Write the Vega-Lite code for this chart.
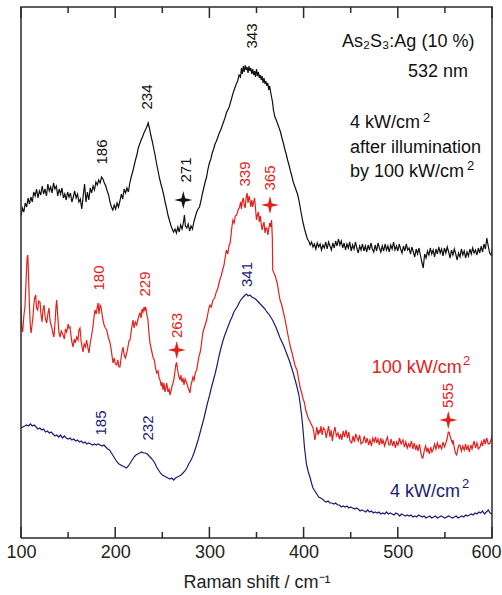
{
  "$schema": "https://vega.github.io/schema/vega-lite/v6.json",
  "width": 471,
  "height": 531,
  "autosize": {"type": "none"},
  "padding": {"left": 21, "top": 7, "right": 10, "bottom": 57},
  "background": "#ffffff",
  "view": {"stroke": null},
  "config": {
    "font": "Liberation Sans",
    "axis": {"grid": false}
  },
  "datasets": {
    "spec": [
      {"s":"k","x":100,"y":322},{"s":"k","x":101.5,"y":330},{"s":"k","x":103,"y":326},{"s":"k","x":104.5,"y":335},{"s":"k","x":106,"y":331},{"s":"k","x":107.5,"y":340},{"s":"k","x":109,"y":334},{"s":"k","x":110.5,"y":341},{"s":"k","x":112,"y":336},{"s":"k","x":113.5,"y":346},{"s":"k","x":115,"y":342},{"s":"k","x":116.5,"y":349},{"s":"k","x":118,"y":340},{"s":"k","x":119.5,"y":347},{"s":"k","x":121,"y":343},{"s":"k","x":122.5,"y":352},{"s":"k","x":124,"y":344},{"s":"k","x":125.5,"y":349},{"s":"k","x":127,"y":342},{"s":"k","x":128.5,"y":354},{"s":"k","x":130,"y":347},{"s":"k","x":131.5,"y":351},{"s":"k","x":133,"y":345},{"s":"k","x":134.5,"y":355},{"s":"k","x":136,"y":349},{"s":"k","x":137.5,"y":352},{"s":"k","x":139,"y":342},{"s":"k","x":140.5,"y":349},{"s":"k","x":142,"y":344},{"s":"k","x":143.5,"y":350},{"s":"k","x":145,"y":340},{"s":"k","x":146.5,"y":344},{"s":"k","x":148,"y":338},{"s":"k","x":149.5,"y":346},{"s":"k","x":151,"y":341},{"s":"k","x":152.5,"y":345},{"s":"k","x":154,"y":336},{"s":"k","x":155.5,"y":341},{"s":"k","x":157,"y":347},{"s":"k","x":158.5,"y":340},{"s":"k","x":160,"y":344},{"s":"k","x":161.5,"y":336},{"s":"k","x":163,"y":339},{"s":"k","x":164.5,"y":329},{"s":"k","x":166,"y":342},{"s":"k","x":167.5,"y":354},{"s":"k","x":169,"y":336},{"s":"k","x":170.5,"y":346},{"s":"k","x":172,"y":338},{"s":"k","x":173.5,"y":350},{"s":"k","x":175,"y":345},{"s":"k","x":176.5,"y":352},{"s":"k","x":178,"y":348},{"s":"k","x":179.5,"y":356},{"s":"k","x":181,"y":353},{"s":"k","x":182.5,"y":358},{"s":"k","x":184,"y":355},{"s":"k","x":185.5,"y":361},{"s":"k","x":187,"y":359},{"s":"k","x":188.5,"y":355},{"s":"k","x":190,"y":352},{"s":"k","x":191.5,"y":347},{"s":"k","x":193,"y":343},{"s":"k","x":194.5,"y":336},{"s":"k","x":196,"y":331},{"s":"k","x":197.5,"y":328},{"s":"k","x":199,"y":333},{"s":"k","x":200.5,"y":329},{"s":"k","x":202,"y":335},{"s":"k","x":203.5,"y":331},{"s":"k","x":205,"y":337},{"s":"k","x":206.5,"y":344},{"s":"k","x":208,"y":339},{"s":"k","x":209.5,"y":349},{"s":"k","x":211,"y":345},{"s":"k","x":212.5,"y":350},{"s":"k","x":214,"y":346},{"s":"k","x":215.5,"y":355},{"s":"k","x":217,"y":361},{"s":"k","x":218.5,"y":366},{"s":"k","x":220,"y":372},{"s":"k","x":221.5,"y":378},{"s":"k","x":223,"y":383},{"s":"k","x":224.5,"y":390},{"s":"k","x":226,"y":394},{"s":"k","x":227.5,"y":398},{"s":"k","x":229,"y":401},{"s":"k","x":230.5,"y":405},{"s":"k","x":232,"y":408},{"s":"k","x":233.5,"y":411},{"s":"k","x":235,"y":415},{"s":"k","x":236.5,"y":409},{"s":"k","x":238,"y":402},{"s":"k","x":239.5,"y":396},{"s":"k","x":241,"y":389},{"s":"k","x":242.5,"y":382},{"s":"k","x":244,"y":374},{"s":"k","x":245.5,"y":367},{"s":"k","x":247,"y":360},{"s":"k","x":248.5,"y":354},{"s":"k","x":250,"y":349},{"s":"k","x":251.5,"y":343},{"s":"k","x":253,"y":336},{"s":"k","x":254.5,"y":330},{"s":"k","x":256,"y":323},{"s":"k","x":257.5,"y":318},{"s":"k","x":259,"y":313},{"s":"k","x":260.5,"y":309},{"s":"k","x":262,"y":306},{"s":"k","x":263.5,"y":309},{"s":"k","x":265,"y":305},{"s":"k","x":266.5,"y":311},{"s":"k","x":268,"y":306},{"s":"k","x":269.5,"y":313},{"s":"k","x":271,"y":309},{"s":"k","x":272.5,"y":316},{"s":"k","x":273.5,"y":323},{"s":"k","x":274.5,"y":312},{"s":"k","x":276,"y":310},{"s":"k","x":277.5,"y":314},{"s":"k","x":279,"y":307},{"s":"k","x":280.5,"y":312},{"s":"k","x":282,"y":309},{"s":"k","x":283.5,"y":316},{"s":"k","x":285,"y":321},{"s":"k","x":286.5,"y":326},{"s":"k","x":288,"y":329},{"s":"k","x":289.5,"y":331},{"s":"k","x":291,"y":337},{"s":"k","x":292.5,"y":344},{"s":"k","x":294,"y":350},{"s":"k","x":295.5,"y":356},{"s":"k","x":297,"y":361},{"s":"k","x":298.5,"y":369},{"s":"k","x":300,"y":375},{"s":"k","x":301.5,"y":379},{"s":"k","x":303,"y":385},{"s":"k","x":304.5,"y":389},{"s":"k","x":306,"y":394},{"s":"k","x":307.5,"y":397},{"s":"k","x":309,"y":401},{"s":"k","x":310.5,"y":405},{"s":"k","x":312,"y":408},{"s":"k","x":313.5,"y":412},{"s":"k","x":315,"y":416},{"s":"k","x":316.5,"y":420},{"s":"k","x":318,"y":425},{"s":"k","x":319.5,"y":428},{"s":"k","x":321,"y":431},{"s":"k","x":322.5,"y":436},{"s":"k","x":324,"y":441},{"s":"k","x":325.5,"y":446},{"s":"k","x":327,"y":450},{"s":"k","x":328.5,"y":454},{"s":"k","x":330,"y":457},{"s":"k","x":331.5,"y":463},{"s":"k","x":333,"y":461},{"s":"k","x":334,"y":470},{"s":"k","x":335,"y":464},{"s":"k","x":336,"y":472},{"s":"k","x":337,"y":466},{"s":"k","x":338,"y":473},{"s":"k","x":339,"y":468},{"s":"k","x":340,"y":471},{"s":"k","x":341,"y":465},{"s":"k","x":342,"y":472},{"s":"k","x":343,"y":467},{"s":"k","x":344,"y":470},{"s":"k","x":345,"y":464},{"s":"k","x":346,"y":469},{"s":"k","x":347,"y":463},{"s":"k","x":348,"y":467},{"s":"k","x":349,"y":461},{"s":"k","x":350,"y":469},{"s":"k","x":351,"y":462},{"s":"k","x":352,"y":466},{"s":"k","x":353,"y":460},{"s":"k","x":354,"y":463},{"s":"k","x":355,"y":458},{"s":"k","x":356,"y":462},{"s":"k","x":357,"y":455},{"s":"k","x":358,"y":460},{"s":"k","x":359,"y":454},{"s":"k","x":360,"y":457},{"s":"k","x":361,"y":452},{"s":"k","x":362,"y":455},{"s":"k","x":363,"y":448},{"s":"k","x":364,"y":452},{"s":"k","x":365,"y":446},{"s":"k","x":366,"y":441},{"s":"k","x":367,"y":436},{"s":"k","x":368,"y":428},{"s":"k","x":369.5,"y":421},{"s":"k","x":371,"y":418},{"s":"k","x":372.5,"y":414},{"s":"k","x":374,"y":410},{"s":"k","x":375.5,"y":406},{"s":"k","x":377,"y":400},{"s":"k","x":378.5,"y":395},{"s":"k","x":380,"y":389},{"s":"k","x":381.5,"y":384},{"s":"k","x":383,"y":378},{"s":"k","x":384.5,"y":373},{"s":"k","x":386,"y":367},{"s":"k","x":387.5,"y":362},{"s":"k","x":389,"y":356},{"s":"k","x":390.5,"y":352},{"s":"k","x":392,"y":348},{"s":"k","x":393.5,"y":344},{"s":"k","x":395,"y":338},{"s":"k","x":396.5,"y":330},{"s":"k","x":398,"y":322},{"s":"k","x":399.5,"y":315},{"s":"k","x":401,"y":309},{"s":"k","x":402.5,"y":304},{"s":"k","x":404,"y":299},{"s":"k","x":405.5,"y":297},{"s":"k","x":407,"y":293},{"s":"k","x":408.5,"y":296},{"s":"k","x":410,"y":291},{"s":"k","x":411.5,"y":294},{"s":"k","x":413,"y":289},{"s":"k","x":414.5,"y":295},{"s":"k","x":416,"y":291},{"s":"k","x":417.5,"y":294},{"s":"k","x":419,"y":288},{"s":"k","x":420.5,"y":293},{"s":"k","x":422,"y":290},{"s":"k","x":423.5,"y":296},{"s":"k","x":425,"y":289},{"s":"k","x":426.5,"y":296},{"s":"k","x":428,"y":292},{"s":"k","x":429.5,"y":288},{"s":"k","x":431,"y":295},{"s":"k","x":432.5,"y":290},{"s":"k","x":434,"y":297},{"s":"k","x":435.5,"y":292},{"s":"k","x":437,"y":299},{"s":"k","x":438.5,"y":293},{"s":"k","x":440,"y":297},{"s":"k","x":441.5,"y":290},{"s":"k","x":443,"y":295},{"s":"k","x":444.5,"y":288},{"s":"k","x":446,"y":294},{"s":"k","x":447.5,"y":290},{"s":"k","x":449,"y":296},{"s":"k","x":450.5,"y":287},{"s":"k","x":452,"y":293},{"s":"k","x":453.5,"y":289},{"s":"k","x":455,"y":296},{"s":"k","x":456.5,"y":290},{"s":"k","x":458,"y":285},{"s":"k","x":459.5,"y":292},{"s":"k","x":461,"y":288},{"s":"k","x":462.5,"y":294},{"s":"k","x":464,"y":287},{"s":"k","x":465.5,"y":292},{"s":"k","x":467,"y":286},{"s":"k","x":468.5,"y":293},{"s":"k","x":470,"y":288},{"s":"k","x":471.5,"y":295},{"s":"k","x":473,"y":289},{"s":"k","x":474.5,"y":286},{"s":"k","x":476,"y":293},{"s":"k","x":477.5,"y":287},{"s":"k","x":479,"y":295},{"s":"k","x":480.5,"y":290},{"s":"k","x":482,"y":286},{"s":"k","x":483.5,"y":292},{"s":"k","x":485,"y":287},{"s":"k","x":486.5,"y":294},{"s":"k","x":488,"y":288},{"s":"k","x":489.5,"y":292},{"s":"k","x":491,"y":286},{"s":"k","x":492.5,"y":293},{"s":"k","x":494,"y":289},{"s":"k","x":495.5,"y":296},{"s":"k","x":497,"y":288},{"s":"k","x":498.5,"y":292},{"s":"k","x":500,"y":287},{"s":"k","x":501.5,"y":294},{"s":"k","x":503,"y":289},{"s":"k","x":504.5,"y":285},{"s":"k","x":506,"y":292},{"s":"k","x":507.5,"y":287},{"s":"k","x":509,"y":294},{"s":"k","x":510.5,"y":288},{"s":"k","x":512,"y":290},{"s":"k","x":513.5,"y":284},{"s":"k","x":515,"y":291},{"s":"k","x":516.5,"y":286},{"s":"k","x":518,"y":281},{"s":"k","x":519.5,"y":289},{"s":"k","x":521,"y":284},{"s":"k","x":522.5,"y":290},{"s":"k","x":524,"y":283},{"s":"k","x":525.5,"y":276},{"s":"k","x":527,"y":270},{"s":"k","x":528.5,"y":284},{"s":"k","x":530,"y":280},{"s":"k","x":531.5,"y":287},{"s":"k","x":533,"y":283},{"s":"k","x":534.5,"y":290},{"s":"k","x":536,"y":284},{"s":"k","x":537.5,"y":288},{"s":"k","x":539,"y":281},{"s":"k","x":540.5,"y":289},{"s":"k","x":542,"y":284},{"s":"k","x":543.5,"y":291},{"s":"k","x":545,"y":285},{"s":"k","x":546.5,"y":289},{"s":"k","x":548,"y":282},{"s":"k","x":549.5,"y":290},{"s":"k","x":551,"y":285},{"s":"k","x":552.5,"y":291},{"s":"k","x":554,"y":286},{"s":"k","x":555.5,"y":280},{"s":"k","x":557,"y":288},{"s":"k","x":558.5,"y":283},{"s":"k","x":560,"y":289},{"s":"k","x":561.5,"y":284},{"s":"k","x":563,"y":278},{"s":"k","x":564.5,"y":285},{"s":"k","x":566,"y":281},{"s":"k","x":567.5,"y":289},{"s":"k","x":569,"y":283},{"s":"k","x":570.5,"y":287},{"s":"k","x":572,"y":280},{"s":"k","x":573.5,"y":286},{"s":"k","x":575,"y":282},{"s":"k","x":576.5,"y":289},{"s":"k","x":578,"y":284},{"s":"k","x":579.5,"y":290},{"s":"k","x":581,"y":285},{"s":"k","x":582.5,"y":288},{"s":"k","x":584,"y":283},{"s":"k","x":585.5,"y":290},{"s":"k","x":587,"y":285},{"s":"k","x":588.5,"y":292},{"s":"k","x":590,"y":286},{"s":"k","x":591.5,"y":294},{"s":"k","x":593,"y":289},{"s":"k","x":594.5,"y":300},{"s":"k","x":596,"y":292},{"s":"k","x":597.5,"y":285},{"s":"k","x":599,"y":283},{"s":"k","x":600,"y":288},

      {"s":"r","x":100,"y":230},{"s":"r","x":100.8,"y":210},{"s":"r","x":101.8,"y":206},{"s":"r","x":103,"y":222},{"s":"r","x":104.2,"y":231},{"s":"r","x":105.5,"y":260},{"s":"r","x":106.5,"y":280},{"s":"r","x":107.2,"y":283},{"s":"r","x":108,"y":262},{"s":"r","x":109,"y":230},{"s":"r","x":110,"y":210},{"s":"r","x":110.8,"y":205},{"s":"r","x":111.8,"y":214},{"s":"r","x":112.7,"y":221},{"s":"r","x":113.5,"y":232},{"s":"r","x":114.5,"y":240},{"s":"r","x":115.6,"y":243},{"s":"r","x":116.5,"y":230},{"s":"r","x":117.7,"y":228},{"s":"r","x":118.8,"y":237},{"s":"r","x":120.2,"y":236},{"s":"r","x":121.2,"y":224},{"s":"r","x":122.3,"y":216},{"s":"r","x":123.3,"y":228},{"s":"r","x":124.4,"y":233},{"s":"r","x":125.5,"y":222},{"s":"r","x":126.3,"y":218},{"s":"r","x":127.3,"y":215},{"s":"r","x":128.5,"y":224},{"s":"r","x":129.7,"y":230},{"s":"r","x":130.8,"y":218},{"s":"r","x":131.6,"y":214},{"s":"r","x":132.6,"y":211},{"s":"r","x":133.8,"y":205},{"s":"r","x":135,"y":201},{"s":"r","x":136.3,"y":218},{"s":"r","x":137.2,"y":232},{"s":"r","x":137.9,"y":238},{"s":"r","x":139,"y":222},{"s":"r","x":140.2,"y":206},{"s":"r","x":141.4,"y":201},{"s":"r","x":142.8,"y":207},{"s":"r","x":144.6,"y":203},{"s":"r","x":146,"y":199},{"s":"r","x":147.2,"y":209},{"s":"r","x":148.5,"y":206},{"s":"r","x":150,"y":214},{"s":"r","x":151,"y":210},{"s":"r","x":152,"y":211},{"s":"r","x":153,"y":203},{"s":"r","x":154,"y":196},{"s":"r","x":155.2,"y":191},{"s":"r","x":156.5,"y":199},{"s":"r","x":157.8,"y":195},{"s":"r","x":159.1,"y":201},{"s":"r","x":160.5,"y":198},{"s":"r","x":161.5,"y":208},{"s":"r","x":162.6,"y":210},{"s":"r","x":163.8,"y":197},{"s":"r","x":165,"y":190},{"s":"r","x":165.8,"y":186},{"s":"r","x":167,"y":194},{"s":"r","x":168.4,"y":191},{"s":"r","x":169.7,"y":198},{"s":"r","x":171,"y":190},{"s":"r","x":172.2,"y":185},{"s":"r","x":173.5,"y":195},{"s":"r","x":175,"y":203},{"s":"r","x":176.5,"y":212},{"s":"r","x":177.6,"y":222},{"s":"r","x":178.6,"y":228},{"s":"r","x":179.8,"y":224},{"s":"r","x":180.8,"y":230},{"s":"r","x":181.7,"y":235},{"s":"r","x":182.8,"y":224},{"s":"r","x":183.9,"y":233},{"s":"r","x":184.9,"y":231},{"s":"r","x":186,"y":224},{"s":"r","x":187,"y":218},{"s":"r","x":188.2,"y":213},{"s":"r","x":189.5,"y":210},{"s":"r","x":191,"y":208},{"s":"r","x":192.6,"y":201},{"s":"r","x":194.5,"y":195},{"s":"r","x":195.8,"y":188},{"s":"r","x":196.8,"y":181},{"s":"r","x":197.7,"y":175},{"s":"r","x":199,"y":180},{"s":"r","x":200.2,"y":174},{"s":"r","x":201.6,"y":173},{"s":"r","x":202.8,"y":178},{"s":"r","x":204,"y":171},{"s":"r","x":205.1,"y":171},{"s":"r","x":206.2,"y":180},{"s":"r","x":207.2,"y":186},{"s":"r","x":208.3,"y":191},{"s":"r","x":209.5,"y":183},{"s":"r","x":210.8,"y":180},{"s":"r","x":212.2,"y":185},{"s":"r","x":213.5,"y":191},{"s":"r","x":214.6,"y":197},{"s":"r","x":215.7,"y":198},{"s":"r","x":216.8,"y":205},{"s":"r","x":217.8,"y":212},{"s":"r","x":218.9,"y":218},{"s":"r","x":220,"y":210},{"s":"r","x":221.3,"y":216},{"s":"r","x":222.8,"y":213},{"s":"r","x":224.3,"y":219},{"s":"r","x":225.3,"y":223},{"s":"r","x":226.3,"y":225},{"s":"r","x":227.5,"y":220},{"s":"r","x":228.5,"y":229},{"s":"r","x":229.5,"y":226},{"s":"r","x":230.6,"y":231},{"s":"r","x":231.5,"y":228},{"s":"r","x":232.4,"y":231},{"s":"r","x":233.5,"y":224},{"s":"r","x":234.8,"y":218},{"s":"r","x":235.8,"y":205},{"s":"r","x":236.9,"y":195},{"s":"r","x":238.5,"y":188},{"s":"r","x":240.1,"y":181},{"s":"r","x":241.5,"y":178},{"s":"r","x":242.8,"y":170},{"s":"r","x":244.1,"y":165},{"s":"r","x":245.5,"y":167},{"s":"r","x":246.6,"y":160},{"s":"r","x":247.6,"y":158},{"s":"r","x":248.8,"y":152},{"s":"r","x":249.7,"y":156},{"s":"r","x":250.7,"y":148},{"s":"r","x":251.8,"y":155},{"s":"r","x":252.8,"y":146},{"s":"r","x":253.8,"y":150},{"s":"r","x":254.7,"y":155},{"s":"r","x":256,"y":146},{"s":"r","x":257.2,"y":149},{"s":"r","x":258.2,"y":143},{"s":"r","x":259.5,"y":148},{"s":"r","x":260.4,"y":152},{"s":"r","x":261.4,"y":155},{"s":"r","x":262.6,"y":160},{"s":"r","x":263.6,"y":168},{"s":"r","x":264.5,"y":174},{"s":"r","x":265.3,"y":175},{"s":"r","x":266.3,"y":168},{"s":"r","x":267.5,"y":162},{"s":"r","x":268.8,"y":158},{"s":"r","x":269.8,"y":163},{"s":"r","x":270.8,"y":156},{"s":"r","x":272,"y":160},{"s":"r","x":273,"y":153},{"s":"r","x":274.2,"y":159},{"s":"r","x":275.9,"y":155},{"s":"r","x":277.2,"y":151},{"s":"r","x":278.3,"y":148},{"s":"r","x":279.4,"y":145},{"s":"r","x":280.5,"y":153},{"s":"r","x":281.6,"y":157},{"s":"r","x":282.6,"y":161},{"s":"r","x":283.7,"y":158},{"s":"r","x":285,"y":165},{"s":"r","x":286.5,"y":168},{"s":"r","x":287.7,"y":175},{"s":"r","x":289,"y":182},{"s":"r","x":290,"y":185},{"s":"r","x":291.3,"y":192},{"s":"r","x":292.3,"y":200},{"s":"r","x":293.2,"y":206},{"s":"r","x":294.5,"y":210},{"s":"r","x":295.8,"y":214},{"s":"r","x":297.1,"y":218},{"s":"r","x":298.5,"y":225},{"s":"r","x":299.5,"y":230},{"s":"r","x":300.6,"y":233},{"s":"r","x":302,"y":231},{"s":"r","x":303.8,"y":238},{"s":"r","x":305.5,"y":240},{"s":"r","x":307,"y":245},{"s":"r","x":309,"y":250},{"s":"r","x":311,"y":258},{"s":"r","x":312.5,"y":262},{"s":"r","x":314,"y":268},{"s":"r","x":315.5,"y":273},{"s":"r","x":317,"y":282},{"s":"r","x":318,"y":288},{"s":"r","x":319.5,"y":284},{"s":"r","x":321,"y":293},{"s":"r","x":322,"y":295},{"s":"r","x":323.2,"y":305},{"s":"r","x":324,"y":312},{"s":"r","x":325,"y":318},{"s":"r","x":326.3,"y":315},{"s":"r","x":327.5,"y":322},{"s":"r","x":329,"y":323},{"s":"r","x":330.5,"y":328},{"s":"r","x":332,"y":331},{"s":"r","x":333.2,"y":336},{"s":"r","x":334,"y":329},{"s":"r","x":335,"y":337},{"s":"r","x":336,"y":340},{"s":"r","x":337,"y":333},{"s":"r","x":338,"y":330},{"s":"r","x":339,"y":341},{"s":"r","x":340,"y":345},{"s":"r","x":341,"y":335},{"s":"r","x":342,"y":342},{"s":"r","x":343,"y":338},{"s":"r","x":344,"y":331},{"s":"r","x":345,"y":338},{"s":"r","x":346,"y":331},{"s":"r","x":347,"y":336},{"s":"r","x":348,"y":340},{"s":"r","x":349,"y":329},{"s":"r","x":350,"y":318},{"s":"r","x":351,"y":323},{"s":"r","x":352,"y":326},{"s":"r","x":353,"y":316},{"s":"r","x":354,"y":322},{"s":"r","x":355,"y":314},{"s":"r","x":356,"y":308},{"s":"r","x":357,"y":313},{"s":"r","x":358,"y":316},{"s":"r","x":359,"y":305},{"s":"r","x":360,"y":310},{"s":"r","x":361,"y":310},{"s":"r","x":362,"y":303},{"s":"r","x":363,"y":309},{"s":"r","x":364,"y":315},{"s":"r","x":365,"y":311},{"s":"r","x":366,"y":318},{"s":"r","x":366.8,"y":300},{"s":"r","x":367.2,"y":268},{"s":"r","x":368.5,"y":265},{"s":"r","x":370,"y":262},{"s":"r","x":371,"y":258},{"s":"r","x":372,"y":255},{"s":"r","x":373.5,"y":246},{"s":"r","x":375,"y":238},{"s":"r","x":376.5,"y":234},{"s":"r","x":378,"y":228},{"s":"r","x":380,"y":220},{"s":"r","x":382,"y":210},{"s":"r","x":384,"y":200},{"s":"r","x":386,"y":191},{"s":"r","x":387.5,"y":186},{"s":"r","x":389,"y":180},{"s":"r","x":391,"y":172},{"s":"r","x":393,"y":168},{"s":"r","x":394.5,"y":160},{"s":"r","x":396,"y":152},{"s":"r","x":397,"y":148},{"s":"r","x":398,"y":145},{"s":"r","x":399.5,"y":139},{"s":"r","x":401,"y":135},{"s":"r","x":402.2,"y":128},{"s":"r","x":403.3,"y":125},{"s":"r","x":404.5,"y":121},{"s":"r","x":406,"y":118},{"s":"r","x":408,"y":114},{"s":"r","x":410,"y":110},{"s":"r","x":411,"y":105},{"s":"r","x":412,"y":98},{"s":"r","x":413,"y":104},{"s":"r","x":414,"y":111},{"s":"r","x":415.3,"y":103},{"s":"r","x":416.5,"y":108},{"s":"r","x":417.4,"y":105},{"s":"r","x":418.5,"y":112},{"s":"r","x":419.7,"y":103},{"s":"r","x":421,"y":110},{"s":"r","x":422.7,"y":108},{"s":"r","x":424,"y":100},{"s":"r","x":425.3,"y":106},{"s":"r","x":426.5,"y":112},{"s":"r","x":428,"y":101},{"s":"r","x":429.3,"y":108},{"s":"r","x":430.5,"y":97},{"s":"r","x":431.8,"y":105},{"s":"r","x":433.3,"y":111},{"s":"r","x":434.8,"y":102},{"s":"r","x":436.5,"y":105},{"s":"r","x":438,"y":99},{"s":"r","x":439.3,"y":104},{"s":"r","x":440.5,"y":98},{"s":"r","x":442,"y":107},{"s":"r","x":443.5,"y":101},{"s":"r","x":445,"y":108},{"s":"r","x":446.5,"y":100},{"s":"r","x":448,"y":106},{"s":"r","x":449.3,"y":97},{"s":"r","x":451.1,"y":95},{"s":"r","x":452.5,"y":102},{"s":"r","x":454,"y":96},{"s":"r","x":455.3,"y":104},{"s":"r","x":456.4,"y":101},{"s":"r","x":458,"y":97},{"s":"r","x":459.5,"y":103},{"s":"r","x":461,"y":94},{"s":"r","x":463.1,"y":96},{"s":"r","x":464.5,"y":102},{"s":"r","x":466,"y":95},{"s":"r","x":467.5,"y":100},{"s":"r","x":469,"y":93},{"s":"r","x":470.5,"y":98},{"s":"r","x":472,"y":92},{"s":"r","x":473.5,"y":100},{"s":"r","x":475,"y":96},{"s":"r","x":476.5,"y":101},{"s":"r","x":477.6,"y":95},{"s":"r","x":479,"y":99},{"s":"r","x":480.5,"y":93},{"s":"r","x":482,"y":100},{"s":"r","x":483.2,"y":94},{"s":"r","x":484.3,"y":98},{"s":"r","x":486,"y":92},{"s":"r","x":487.5,"y":97},{"s":"r","x":489,"y":101},{"s":"r","x":490.5,"y":93},{"s":"r","x":491.7,"y":93},{"s":"r","x":493,"y":99},{"s":"r","x":494.5,"y":92},{"s":"r","x":496,"y":97},{"s":"r","x":497.5,"y":90},{"s":"r","x":498.8,"y":96},{"s":"r","x":500.2,"y":93},{"s":"r","x":501.8,"y":100},{"s":"r","x":503.5,"y":94},{"s":"r","x":505.5,"y":98},{"s":"r","x":507,"y":91},{"s":"r","x":508.5,"y":96},{"s":"r","x":510,"y":90},{"s":"r","x":511.5,"y":94},{"s":"r","x":512.9,"y":91},{"s":"r","x":514.5,"y":97},{"s":"r","x":516,"y":89},{"s":"r","x":517.5,"y":95},{"s":"r","x":519,"y":88},{"s":"r","x":520,"y":93},{"s":"r","x":521.5,"y":87},{"s":"r","x":523,"y":94},{"s":"r","x":524.5,"y":85},{"s":"r","x":525.8,"y":80},{"s":"r","x":526.7,"y":80},{"s":"r","x":528,"y":87},{"s":"r","x":529.5,"y":92},{"s":"r","x":531,"y":86},{"s":"r","x":532,"y":90},{"s":"r","x":533.5,"y":84},{"s":"r","x":535,"y":91},{"s":"r","x":536.2,"y":86},{"s":"r","x":537.4,"y":88},{"s":"r","x":539,"y":94},{"s":"r","x":540.5,"y":89},{"s":"r","x":542,"y":95},{"s":"r","x":543.5,"y":90},{"s":"r","x":544.8,"y":93},{"s":"r","x":546.5,"y":89},{"s":"r","x":548,"y":96},{"s":"r","x":549.5,"y":91},{"s":"r","x":551,"y":95},{"s":"r","x":552.5,"y":100},{"s":"r","x":553.6,"y":106},{"s":"r","x":554.4,"y":106},{"s":"r","x":555.5,"y":102},{"s":"r","x":556.8,"y":98},{"s":"r","x":558,"y":95},{"s":"r","x":558.6,"y":98},{"s":"r","x":560,"y":90},{"s":"r","x":561.2,"y":85},{"s":"r","x":562.5,"y":83},{"s":"r","x":564,"y":90},{"s":"r","x":565,"y":93},{"s":"r","x":566,"y":93},{"s":"r","x":567.5,"y":87},{"s":"r","x":569,"y":92},{"s":"r","x":570.5,"y":88},{"s":"r","x":572,"y":94},{"s":"r","x":573.1,"y":88},{"s":"r","x":574.5,"y":92},{"s":"r","x":576,"y":86},{"s":"r","x":577.5,"y":93},{"s":"r","x":578.8,"y":89},{"s":"r","x":579.8,"y":93},{"s":"r","x":581,"y":97},{"s":"r","x":582.5,"y":90},{"s":"r","x":584,"y":95},{"s":"r","x":585.5,"y":89},{"s":"r","x":587.3,"y":91},{"s":"r","x":588.8,"y":96},{"s":"r","x":590,"y":92},{"s":"r","x":591.5,"y":99},{"s":"r","x":592.8,"y":94},{"s":"r","x":594.4,"y":100},{"s":"r","x":596,"y":94},{"s":"r","x":597.9,"y":95},{"s":"r","x":599.2,"y":99},{"s":"r","x":600,"y":102},

      {"s":"b","x":100,"y":110},{"s":"b","x":102,"y":111},{"s":"b","x":104,"y":112},{"s":"b","x":106,"y":113},{"s":"b","x":108,"y":112},{"s":"b","x":110,"y":114},{"s":"b","x":112,"y":112},{"s":"b","x":114,"y":113},{"s":"b","x":116,"y":111},{"s":"b","x":118,"y":109},{"s":"b","x":120,"y":110},{"s":"b","x":122,"y":108},{"s":"b","x":124,"y":109},{"s":"b","x":126,"y":106},{"s":"b","x":128,"y":107},{"s":"b","x":130,"y":105},{"s":"b","x":132,"y":106},{"s":"b","x":134,"y":104},{"s":"b","x":136,"y":102},{"s":"b","x":138,"y":103},{"s":"b","x":140,"y":101},{"s":"b","x":142,"y":103},{"s":"b","x":144,"y":100},{"s":"b","x":146,"y":102},{"s":"b","x":148,"y":100},{"s":"b","x":150,"y":99},{"s":"b","x":152,"y":100},{"s":"b","x":154,"y":98},{"s":"b","x":156,"y":99},{"s":"b","x":158,"y":97},{"s":"b","x":160,"y":98},{"s":"b","x":162,"y":96},{"s":"b","x":164,"y":97},{"s":"b","x":166,"y":95},{"s":"b","x":168,"y":96},{"s":"b","x":170,"y":94},{"s":"b","x":172,"y":95},{"s":"b","x":174,"y":94},{"s":"b","x":176,"y":93},{"s":"b","x":178,"y":94},{"s":"b","x":180,"y":93},{"s":"b","x":182,"y":94},{"s":"b","x":184,"y":93},{"s":"b","x":186,"y":92},{"s":"b","x":188,"y":93},{"s":"b","x":190,"y":91},{"s":"b","x":192,"y":89},{"s":"b","x":194,"y":88},{"s":"b","x":196,"y":85},{"s":"b","x":198,"y":82},{"s":"b","x":200,"y":79},{"s":"b","x":202,"y":76},{"s":"b","x":204,"y":74},{"s":"b","x":206,"y":73},{"s":"b","x":208,"y":72},{"s":"b","x":210,"y":71},{"s":"b","x":212,"y":70},{"s":"b","x":214,"y":72},{"s":"b","x":216,"y":75},{"s":"b","x":218,"y":78},{"s":"b","x":220,"y":81},{"s":"b","x":222,"y":83},{"s":"b","x":224,"y":84},{"s":"b","x":226,"y":85},{"s":"b","x":228,"y":86},{"s":"b","x":230,"y":85},{"s":"b","x":232,"y":85},{"s":"b","x":234,"y":84},{"s":"b","x":236,"y":82},{"s":"b","x":238,"y":80},{"s":"b","x":240,"y":78},{"s":"b","x":242,"y":75},{"s":"b","x":244,"y":71},{"s":"b","x":246,"y":68},{"s":"b","x":248,"y":65},{"s":"b","x":250,"y":63},{"s":"b","x":252,"y":62},{"s":"b","x":254,"y":61},{"s":"b","x":256,"y":60},{"s":"b","x":258,"y":59},{"s":"b","x":260,"y":60},{"s":"b","x":262,"y":58},{"s":"b","x":264,"y":60},{"s":"b","x":266,"y":61},{"s":"b","x":268,"y":62},{"s":"b","x":270,"y":63},{"s":"b","x":272,"y":65},{"s":"b","x":274,"y":67},{"s":"b","x":276,"y":70},{"s":"b","x":278,"y":74},{"s":"b","x":280,"y":77},{"s":"b","x":282,"y":81},{"s":"b","x":284,"y":86},{"s":"b","x":286,"y":92},{"s":"b","x":288,"y":98},{"s":"b","x":290,"y":105},{"s":"b","x":292,"y":112},{"s":"b","x":294,"y":119},{"s":"b","x":296,"y":127},{"s":"b","x":298,"y":135},{"s":"b","x":300,"y":142},{"s":"b","x":302,"y":150},{"s":"b","x":304,"y":157},{"s":"b","x":306,"y":164},{"s":"b","x":308,"y":172},{"s":"b","x":310,"y":181},{"s":"b","x":312,"y":189},{"s":"b","x":314,"y":196},{"s":"b","x":316,"y":202},{"s":"b","x":318,"y":207},{"s":"b","x":320,"y":212},{"s":"b","x":322,"y":217},{"s":"b","x":324,"y":221},{"s":"b","x":326,"y":226},{"s":"b","x":328,"y":229},{"s":"b","x":330,"y":232},{"s":"b","x":332,"y":236},{"s":"b","x":334,"y":239},{"s":"b","x":336,"y":241},{"s":"b","x":338,"y":243},{"s":"b","x":339.6,"y":244},{"s":"b","x":341,"y":242},{"s":"b","x":343,"y":243},{"s":"b","x":345,"y":241},{"s":"b","x":347,"y":240},{"s":"b","x":349,"y":239},{"s":"b","x":351,"y":237},{"s":"b","x":353,"y":235},{"s":"b","x":355,"y":233},{"s":"b","x":357,"y":231},{"s":"b","x":359,"y":229},{"s":"b","x":361,"y":226},{"s":"b","x":363,"y":224},{"s":"b","x":365,"y":221},{"s":"b","x":367,"y":218},{"s":"b","x":369,"y":214},{"s":"b","x":371,"y":210},{"s":"b","x":373,"y":205},{"s":"b","x":375,"y":200},{"s":"b","x":377,"y":196},{"s":"b","x":379,"y":192},{"s":"b","x":381,"y":187},{"s":"b","x":383,"y":182},{"s":"b","x":385,"y":177},{"s":"b","x":387,"y":171},{"s":"b","x":389,"y":165},{"s":"b","x":391,"y":158},{"s":"b","x":393,"y":151},{"s":"b","x":395,"y":143},{"s":"b","x":396.2,"y":135},{"s":"b","x":398,"y":122},{"s":"b","x":399.4,"y":108},{"s":"b","x":401,"y":90},{"s":"b","x":403,"y":74},{"s":"b","x":405,"y":66},{"s":"b","x":407,"y":60},{"s":"b","x":409,"y":53},{"s":"b","x":410,"y":50},{"s":"b","x":412,"y":47},{"s":"b","x":414,"y":44},{"s":"b","x":416,"y":41},{"s":"b","x":418,"y":40},{"s":"b","x":420,"y":39},{"s":"b","x":422,"y":37},{"s":"b","x":424,"y":36},{"s":"b","x":426,"y":37},{"s":"b","x":428,"y":35},{"s":"b","x":430,"y":35},{"s":"b","x":432,"y":34},{"s":"b","x":434,"y":35},{"s":"b","x":436,"y":33},{"s":"b","x":438,"y":33},{"s":"b","x":440,"y":31},{"s":"b","x":442,"y":32},{"s":"b","x":444,"y":31},{"s":"b","x":446,"y":32},{"s":"b","x":448,"y":30},{"s":"b","x":450,"y":31},{"s":"b","x":452,"y":30},{"s":"b","x":454,"y":29},{"s":"b","x":456,"y":30},{"s":"b","x":458,"y":29},{"s":"b","x":460,"y":27},{"s":"b","x":462,"y":28},{"s":"b","x":464,"y":27},{"s":"b","x":466,"y":26},{"s":"b","x":468,"y":28},{"s":"b","x":470,"y":26},{"s":"b","x":472,"y":27},{"s":"b","x":474,"y":25},{"s":"b","x":476,"y":26},{"s":"b","x":478,"y":25},{"s":"b","x":480,"y":26},{"s":"b","x":482,"y":24},{"s":"b","x":484,"y":25},{"s":"b","x":486,"y":24},{"s":"b","x":488,"y":26},{"s":"b","x":490,"y":24},{"s":"b","x":492,"y":25},{"s":"b","x":494,"y":24},{"s":"b","x":496,"y":23},{"s":"b","x":498,"y":25},{"s":"b","x":500,"y":24},{"s":"b","x":502,"y":22},{"s":"b","x":504,"y":24},{"s":"b","x":506,"y":23},{"s":"b","x":508,"y":22},{"s":"b","x":510,"y":23},{"s":"b","x":512,"y":22},{"s":"b","x":514,"y":23},{"s":"b","x":516,"y":21},{"s":"b","x":518,"y":22},{"s":"b","x":520,"y":21},{"s":"b","x":522,"y":23},{"s":"b","x":524,"y":22},{"s":"b","x":526,"y":21},{"s":"b","x":528,"y":22},{"s":"b","x":530,"y":20},{"s":"b","x":532,"y":21},{"s":"b","x":534,"y":22},{"s":"b","x":536,"y":20},{"s":"b","x":538,"y":21},{"s":"b","x":540,"y":22},{"s":"b","x":542,"y":20},{"s":"b","x":544,"y":21},{"s":"b","x":546,"y":22},{"s":"b","x":548,"y":21},{"s":"b","x":550,"y":20},{"s":"b","x":552,"y":21},{"s":"b","x":554,"y":22},{"s":"b","x":556,"y":21},{"s":"b","x":558,"y":20},{"s":"b","x":560,"y":21},{"s":"b","x":562,"y":22},{"s":"b","x":564,"y":20},{"s":"b","x":566,"y":21},{"s":"b","x":568,"y":22},{"s":"b","x":570,"y":21},{"s":"b","x":572,"y":23},{"s":"b","x":574,"y":22},{"s":"b","x":576,"y":23},{"s":"b","x":578,"y":24},{"s":"b","x":580,"y":23},{"s":"b","x":582,"y":25},{"s":"b","x":584,"y":24},{"s":"b","x":586,"y":26},{"s":"b","x":588,"y":25},{"s":"b","x":590,"y":27},{"s":"b","x":592,"y":24},{"s":"b","x":594,"y":26},{"s":"b","x":596,"y":28},{"s":"b","x":598,"y":25},{"s":"b","x":600,"y":24}
    ],
    "peaks": [
      {"c":"k","x":185.7,"y":386,"t":"186"},
      {"c":"k","x":233.4,"y":441,"t":"234"},
      {"c":"k","x":275.2,"y":368,"t":"271"},
      {"c":"k","x":344.7,"y":502,"t":"343"},
      {"c":"r","x":337.8,"y":364,"t":"339"},
      {"c":"r","x":364.3,"y":360,"t":"365"},
      {"c":"r","x":182.8,"y":260,"t":"180"},
      {"c":"r","x":231.6,"y":254,"t":"229"},
      {"c":"r","x":265.3,"y":212.5,"t":"263"},
      {"c":"r","x":553.6,"y":142.5,"t":"555"},
      {"c":"b","x":184.9,"y":115,"t":"185"},
      {"c":"b","x":234.3,"y":110,"t":"232"},
      {"c":"b","x":340.4,"y":263.5,"t":"341"}
    ],
    "stars": [
      {"c":"k","x":272.3,"y":338},
      {"c":"r","x":265.3,"y":188},
      {"c":"r","x":364.3,"y":333},
      {"c":"r","x":553.6,"y":118}
    ],
    "notes": [
      {"c":"k","x":440.8,"y":491.3,"t":"As₂S₃:Ag (10 %)"},
      {"c":"k","x":510.8,"y":461.3,"t":"532 nm"},
      {"c":"k","x":449.3,"y":410,"t":"4 kW/cm"},
      {"c":"k","x":449.3,"y":385,"t":"after illumination"},
      {"c":"k","x":449.3,"y":361,"t":"by 100 kW/cm"},
      {"c":"r","x":472.3,"y":164.7,"t":"100 kW/cm"},
      {"c":"b","x":491.7,"y":41.3,"t":"4 kW/cm"}
    ],
    "sups": [
      {"c":"k","x":526.8,"y":416,"t":"2"},
      {"c":"k","x":573.5,"y":368,"t":"2"},
      {"c":"r","x":569.2,"y":173,"t":"2"},
      {"c":"b","x":568.2,"y":50,"t":"2"}
    ],
    "frame": [{"x":100,"y":0},{"x":600,"y":0},{"x":600,"y":531},{"x":100,"y":531},{"x":100,"y":0}],
    "major": [{"v":100},{"v":200},{"v":300},{"v":400},{"v":500},{"v":600}],
    "minor": [{"v":150},{"v":250},{"v":350},{"v":450},{"v":550}]
  },
  "layer": [
    {
      "data": {"name": "spec"},
      "mark": {"type": "line", "strokeWidth": 1.2, "clip": true},
      "encoding": {
        "x": {"field": "x", "type": "quantitative",
              "scale": {"domain": [100, 600], "nice": false, "zero": false},
              "axis": {"orient": "bottom", "values": [100, 200, 300, 400, 500, 600], "ticks": false, "domain": false, "grid": false,
                       "labelFontSize": 18, "labelColor": "#222222", "labelPadding": 5, "labelFlush": false,
                       "labelAlign": {"expr": "datum.value == 600 ? 'right' : 'center'"},
                       "labelOffset": {"expr": "datum.value == 600 ? 9 : 0"},
                       "title": "Raman shift / cm⁻¹", "titleFontSize": 18, "titleFontWeight": "normal",
                       "titleColor": "#222222", "titlePadding": 12}},
        "y": {"field": "y", "type": "quantitative",
              "scale": {"domain": [0, 531], "nice": false, "zero": false}, "axis": null},
        "color": {"field": "s", "type": "nominal",
                  "scale": {"domain": ["k", "r", "b", "f"], "range": ["#111111", "#e3211c", "#1c1c78", "#2a2a2a"]},
                  "legend": null},
        "detail": {"field": "s"}
      }
    },
    {
      "data": {"name": "frame"},
      "mark": {"type": "line", "strokeWidth": 1.5, "order": false},
      "encoding": {
        "x": {"field": "x", "type": "quantitative"},
        "y": {"field": "y", "type": "quantitative"},
        "color": {"datum": "f", "type": "nominal", "legend": null}
      }
    },
    {
      "data": {"name": "major"},
      "mark": {"type": "rule", "strokeWidth": 1.5},
      "encoding": {
        "x": {"field": "v", "type": "quantitative"},
        "y": {"datum": 0, "type": "quantitative"},
        "y2": {"datum": 11},
        "color": {"datum": "f", "type": "nominal", "legend": null}
      }
    },
    {
      "data": {"name": "major"},
      "mark": {"type": "rule", "strokeWidth": 1.5},
      "encoding": {
        "x": {"field": "v", "type": "quantitative"},
        "y": {"datum": 520, "type": "quantitative"},
        "y2": {"datum": 531},
        "color": {"datum": "f", "type": "nominal", "legend": null}
      }
    },
    {
      "data": {"name": "minor"},
      "mark": {"type": "rule", "strokeWidth": 1.5},
      "encoding": {
        "x": {"field": "v", "type": "quantitative"},
        "y": {"datum": 0, "type": "quantitative"},
        "y2": {"datum": 6},
        "color": {"datum": "f", "type": "nominal", "legend": null}
      }
    },
    {
      "data": {"name": "minor"},
      "mark": {"type": "rule", "strokeWidth": 1.5},
      "encoding": {
        "x": {"field": "v", "type": "quantitative"},
        "y": {"datum": 525, "type": "quantitative"},
        "y2": {"datum": 531},
        "color": {"datum": "f", "type": "nominal", "legend": null}
      }
    },
    {
      "data": {"name": "peaks"},
      "mark": {"type": "text", "angle": 270, "fontSize": 15, "align": "center", "baseline": "middle"},
      "encoding": {
        "x": {"field": "x", "type": "quantitative"},
        "y": {"field": "y", "type": "quantitative"},
        "text": {"field": "t"},
        "color": {"field": "c", "type": "nominal", "legend": null}
      }
    },
    {
      "data": {"name": "stars"},
      "mark": {"type": "point", "filled": true, "opacity": 1, "size": 330,
               "shape": "M0,-1L0.2,-0.2L1,0L0.2,0.2L0,1L-0.2,0.2L-1,0L-0.2,-0.2Z"},
      "encoding": {
        "x": {"field": "x", "type": "quantitative"},
        "y": {"field": "y", "type": "quantitative"},
        "color": {"field": "c", "type": "nominal", "legend": null}
      }
    },
    {
      "data": {"name": "notes"},
      "mark": {"type": "text", "fontSize": 18, "align": "left", "baseline": "alphabetic"},
      "encoding": {
        "x": {"field": "x", "type": "quantitative"},
        "y": {"field": "y", "type": "quantitative"},
        "text": {"field": "t"},
        "color": {"field": "c", "type": "nominal", "legend": null}
      }
    },
    {
      "data": {"name": "sups"},
      "mark": {"type": "text", "fontSize": 13, "align": "left", "baseline": "alphabetic"},
      "encoding": {
        "x": {"field": "x", "type": "quantitative"},
        "y": {"field": "y", "type": "quantitative"},
        "text": {"field": "t"},
        "color": {"field": "c", "type": "nominal", "legend": null}
      }
    }
  ]
}
